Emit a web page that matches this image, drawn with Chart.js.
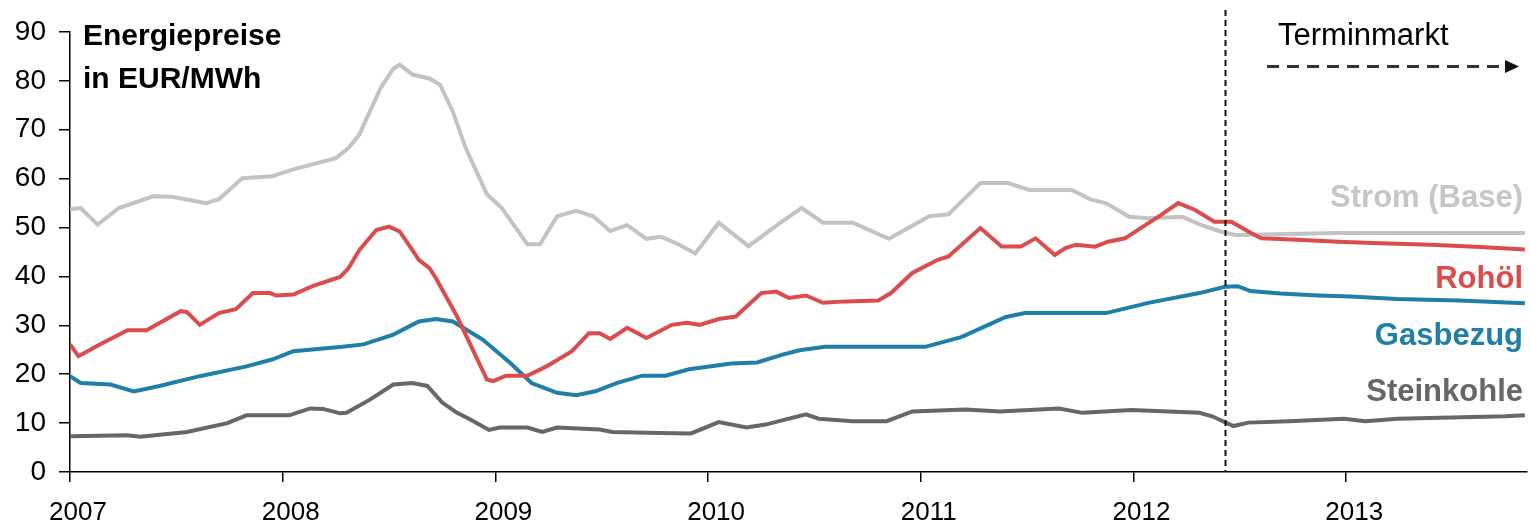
<!DOCTYPE html>
<html>
<head>
<meta charset="utf-8">
<script src="https://cdn.jsdelivr.net/npm/chart.js@4"></script>
<style>
  html, body { margin: 0; padding: 0; background: #fff; }
  #wrap { width: 1529px; height: 525px; position: relative; }
</style>
</head>
<body>
<div id="wrap"><canvas id="energyChart"></canvas></div>
<script>
// ========================================
// DATA (decimal year, EUR/MWh)
// ========================================
const yearTicks = [2007, 2008, 2009, 2010, 2011, 2012, 2013];
const terminmarktStart = 2012.43;

const strom = [
  [2007.00, 53.8], [2007.05, 54.0], [2007.13, 50.6], [2007.23, 54.0], [2007.39, 56.4],
  [2007.48, 56.3], [2007.64, 55.0], [2007.70, 55.8], [2007.81, 60.1], [2007.95, 60.5],
  [2008.05, 61.9], [2008.25, 64.2], [2008.31, 66.3], [2008.36, 69.0], [2008.46, 78.5],
  [2008.52, 82.5], [2008.55, 83.3], [2008.61, 81.3], [2008.69, 80.5], [2008.74, 79.2],
  [2008.80, 73.7], [2008.86, 66.3], [2008.96, 56.8], [2009.03, 54.0], [2009.15, 46.6],
  [2009.21, 46.6], [2009.29, 52.3], [2009.38, 53.4], [2009.46, 52.3], [2009.54, 49.3],
  [2009.62, 50.5], [2009.71, 47.7], [2009.78, 48.1], [2009.86, 46.6], [2009.94, 44.7],
  [2010.05, 51.0], [2010.19, 46.2], [2010.35, 51.3], [2010.44, 54.0], [2010.54, 51.0],
  [2010.68, 51.0], [2010.85, 47.7], [2011.04, 52.3], [2011.13, 52.7], [2011.28, 59.1],
  [2011.41, 59.1], [2011.51, 57.7], [2011.71, 57.7], [2011.80, 55.7], [2011.87, 55.0],
  [2011.98, 52.2], [2012.07, 51.9], [2012.23, 52.2], [2012.32, 50.5], [2012.41, 49.2],
  [2012.48, 48.5], [2012.96, 48.9], [2013.84, 48.9],
];

const rohoel = [
  [2007.00, 26.1], [2007.04, 23.7], [2007.14, 26.1], [2007.27, 29.0], [2007.36, 29.0],
  [2007.52, 32.9], [2007.55, 32.7], [2007.61, 30.1], [2007.70, 32.5], [2007.78, 33.3],
  [2007.86, 36.6], [2007.94, 36.6], [2007.97, 36.1], [2008.05, 36.3], [2008.14, 38.0],
  [2008.27, 39.9], [2008.31, 41.7], [2008.36, 45.4], [2008.44, 49.5], [2008.50, 50.2],
  [2008.55, 49.2], [2008.61, 45.4], [2008.64, 43.4], [2008.69, 41.7], [2008.72, 39.7],
  [2008.82, 31.8], [2008.96, 18.9], [2008.99, 18.6], [2009.05, 19.7], [2009.15, 19.7],
  [2009.24, 21.6], [2009.36, 24.7], [2009.44, 28.4], [2009.49, 28.4], [2009.54, 27.2],
  [2009.62, 29.5], [2009.71, 27.4], [2009.83, 30.1], [2009.90, 30.5], [2009.96, 30.1],
  [2010.05, 31.3], [2010.13, 31.8], [2010.25, 36.6], [2010.32, 36.9], [2010.38, 35.6],
  [2010.46, 36.1], [2010.54, 34.6], [2010.65, 34.9], [2010.80, 35.1], [2010.86, 36.6],
  [2010.96, 40.7], [2011.08, 43.4], [2011.13, 44.1], [2011.28, 49.9], [2011.38, 46.1],
  [2011.47, 46.1], [2011.54, 47.8], [2011.63, 44.4], [2011.68, 45.8], [2011.73, 46.5],
  [2011.82, 46.1], [2011.88, 47.1], [2011.96, 47.8], [2012.07, 50.9], [2012.13, 52.6],
  [2012.21, 55.0], [2012.29, 53.6], [2012.38, 51.2], [2012.46, 51.2], [2012.54, 49.2],
  [2012.60, 47.8], [2012.77, 47.5], [2012.96, 47.1], [2013.16, 46.8], [2013.40, 46.5],
  [2013.63, 46.0], [2013.84, 45.5],
];

const gasbezug = [
  [2007.00, 19.6], [2007.05, 18.2], [2007.19, 17.9], [2007.30, 16.5], [2007.42, 17.6],
  [2007.61, 19.6], [2007.83, 21.6], [2007.95, 23.0], [2008.05, 24.7], [2008.28, 25.6],
  [2008.38, 26.1], [2008.52, 28.1], [2008.64, 30.8], [2008.72, 31.3], [2008.80, 30.8],
  [2008.94, 27.1], [2009.07, 22.3], [2009.17, 18.2], [2009.29, 16.2], [2009.38, 15.7],
  [2009.47, 16.5], [2009.57, 18.2], [2009.69, 19.7], [2009.80, 19.7], [2009.91, 21.0],
  [2010.11, 22.2], [2010.23, 22.4], [2010.35, 24.0], [2010.43, 24.9], [2010.55, 25.6],
  [2011.02, 25.6], [2011.19, 27.6], [2011.40, 31.7], [2011.49, 32.5], [2011.87, 32.5],
  [2012.07, 34.6], [2012.31, 36.6], [2012.43, 37.9], [2012.49, 38.0], [2012.55, 37.0],
  [2012.69, 36.5], [2012.87, 36.1], [2013.02, 35.9], [2013.24, 35.4], [2013.53, 35.1],
  [2013.84, 34.5],
];

const steinkohle = [
  [2007.00, 7.3], [2007.27, 7.5], [2007.33, 7.2], [2007.55, 8.2], [2007.74, 10.0],
  [2007.83, 11.6], [2008.03, 11.6], [2008.13, 13.0], [2008.19, 12.9], [2008.27, 12.0],
  [2008.30, 12.1], [2008.41, 14.8], [2008.52, 17.9], [2008.61, 18.2], [2008.68, 17.6],
  [2008.75, 14.2], [2008.82, 12.1], [2008.88, 10.8], [2008.97, 8.6], [2009.02, 9.1],
  [2009.15, 9.1], [2009.22, 8.2], [2009.29, 9.1], [2009.49, 8.7], [2009.55, 8.2],
  [2009.77, 8.0], [2009.92, 7.9], [2010.05, 10.2], [2010.18, 9.1], [2010.27, 9.7],
  [2010.46, 11.8], [2010.52, 10.9], [2010.68, 10.4], [2010.84, 10.4], [2010.96, 12.4],
  [2011.21, 12.8], [2011.37, 12.4], [2011.65, 13.0], [2011.76, 12.1], [2011.99, 12.7],
  [2012.31, 12.1], [2012.37, 11.4], [2012.47, 9.4], [2012.54, 10.1], [2012.73, 10.4],
  [2012.99, 10.9], [2013.09, 10.4], [2013.24, 10.9], [2013.75, 11.4], [2013.84, 11.6],
];

const toPoints = (arr) => arr.map(([x, y]) => ({ x, y }));

// ========================================
// ANNOTATIONS (title, series labels, Terminmarkt marker)
// ========================================
const seriesLabels = [
  { text: "Strom (Base)", color: "#c6c6c6", value: 54.2 },
  { text: "Rohöl", color: "#dc4c4c", value: 37.6 },
  { text: "Gasbezug", color: "#1f7fa8", value: 26.0 },
  { text: "Steinkohle", color: "#666666", value: 14.6 },
];

const annotationPlugin = {
  id: "annotations",
  afterDatasetsDraw(chart) {
    const { ctx, chartArea, scales } = chart;
    const xs = scales.x;
    const ys = scales.y;
    ctx.save();

    // vertical dashed line: start of futures market
    const vx = Math.round(xs.getPixelForValue(terminmarktStart)) + 0.5;
    ctx.strokeStyle = "#111";
    ctx.lineWidth = 2;
    ctx.setLineDash([6, 4]);
    ctx.beginPath();
    ctx.moveTo(vx, 10);
    ctx.lineTo(vx, chartArea.bottom);
    ctx.stroke();

    // dashed arrow
    ctx.strokeStyle = "#333";
    ctx.lineWidth = 3;
    ctx.setLineDash([12, 8]);
    ctx.beginPath();
    ctx.moveTo(1267, 66.5);
    ctx.lineTo(1507, 66.5);
    ctx.stroke();
    ctx.setLineDash([]);
    ctx.fillStyle = "#111";
    ctx.beginPath();
    ctx.moveTo(1519, 66.5);
    ctx.lineTo(1505, 60);
    ctx.lineTo(1505, 73);
    ctx.closePath();
    ctx.fill();

    // texts
    ctx.textBaseline = "alphabetic";
    ctx.textAlign = "left";
    ctx.fillStyle = "#000";
    ctx.font = "bold 30px 'Liberation Sans', Arial, sans-serif";
    ctx.fillText("Energiepreise", 83, 45);
    ctx.fillText("in EUR/MWh", 83, 88);

    ctx.font = "31px 'Liberation Sans', Arial, sans-serif";
    ctx.fillText("Terminmarkt", 1278, 45);

    ctx.textAlign = "right";
    ctx.font = "bold 31px 'Liberation Sans', Arial, sans-serif";
    seriesLabels.forEach((l) => {
      ctx.fillStyle = l.color;
      ctx.fillText(l.text, 1523, ys.getPixelForValue(l.value));
    });

    ctx.restore();
  },
};

// ========================================
// CHART
// ========================================
const lineStyle = (color) => ({
  borderColor: color,
  backgroundColor: color,
  borderWidth: 4,
  pointRadius: 0,
  tension: 0,
  fill: false,
});

new Chart(document.getElementById("energyChart"), {
  type: "line",
  data: {
    datasets: [
      { label: "Rohöl", data: toPoints(rohoel), ...lineStyle("#dc4c4c") },
      { label: "Gasbezug", data: toPoints(gasbezug), ...lineStyle("#1f7fa8") },
      { label: "Strom (Base)", data: toPoints(strom), ...lineStyle("#c3c3c3") },
      { label: "Steinkohle", data: toPoints(steinkohle), ...lineStyle("#676767") },
    ],
  },
  options: {
    responsive: true,
    maintainAspectRatio: false,
    animation: false,
    layout: { padding: { top: 32, right: 2, left: 0, bottom: 0 } },
    plugins: {
      legend: { display: false },
      tooltip: { enabled: false },
    },
    scales: {
      x: {
        type: "linear",
        min: 2007,
        max: 2013.85,
        afterFit: (scale) => { scale.height = 53; },
        afterBuildTicks: (scale) => {
          scale.ticks = yearTicks.map((v) => ({ value: v }));
        },
        border: { display: true, color: "#000", width: 1.5 },
        grid: {
          display: true,
          drawOnChartArea: false,
          drawTicks: true,
          tickLength: 10,
          color: "#000",
          lineWidth: 1.5,
        },
        ticks: {
          color: "#000",
          padding: 15,
          labelOffset: 8,
          maxRotation: 0,
          font: { family: "'Liberation Sans', Arial, sans-serif", size: 26 },
          callback: (v) => String(v),
        },
      },
      y: {
        min: 0,
        max: 90,
        afterFit: (scale) => { scale.width = 70; },
        border: { display: true, color: "#000", width: 1.5 },
        grid: {
          display: true,
          drawOnChartArea: false,
          drawTicks: true,
          tickLength: 11,
          color: "#000",
          lineWidth: 1.5,
        },
        ticks: {
          stepSize: 10,
          color: "#000",
          padding: 13,
          font: { family: "'Liberation Sans', Arial, sans-serif", size: 28 },
        },
      },
    },
  },
  plugins: [annotationPlugin],
});
</script>
</body>
</html>
